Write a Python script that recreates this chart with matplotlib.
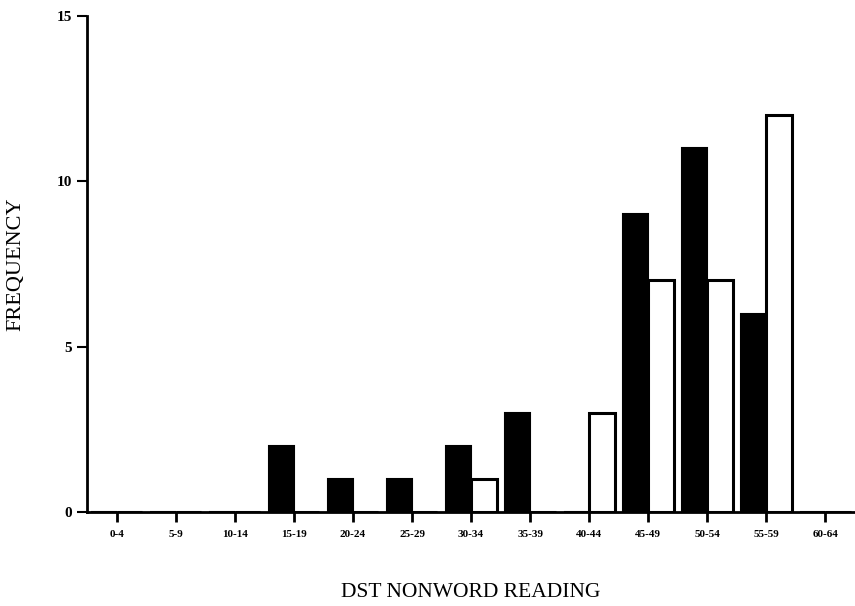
import numpy as np
import matplotlib
matplotlib.use("Agg")
import matplotlib.pyplot as plt

# score bands on the x axis
bands = ["0-4", "5-9", "10-14", "15-19", "20-24", "25-29", "30-34",
         "35-39", "40-44", "45-49", "50-54", "55-59", "60-64"]
# two groups: filled (black) and open (white) bars
black_freq = [0, 0, 0, 2, 1, 1, 2, 3, 0, 9, 11, 6, 0]
white_freq = [0, 0, 0, 0, 0, 0, 1, 0, 3, 7, 7, 12, 0]
y_ticks = [0, 5, 10, 15]

plt.rcParams['font.family'] = ['Liberation Serif', 'DejaVu Serif']

fig = plt.figure(figsize=(8.55, 6.06), dpi=100)
ax = fig.add_axes([0.102, 0.155, 0.898, 0.819])

x = np.arange(len(bands))
w = 0.43
ax.bar(x - w / 2, black_freq, width=w, color='black', edgecolor='black', linewidth=1.5)
ax.bar(x + w / 2, white_freq, width=w, color='white', edgecolor='black', linewidth=2.2)

ax.set_xlim(-0.5, 12.5)
ax.set_ylim(0, 15)
ax.set_xticks(x)
ax.set_xticklabels(bands, fontsize=8, fontweight='bold')
ax.set_yticks(y_ticks)
ax.set_yticklabels([str(v) for v in y_ticks], fontsize=11, fontweight='bold')

for side in ['top', 'right']:
    ax.spines[side].set_visible(False)
for side in ['left', 'bottom']:
    ax.spines[side].set_linewidth(2)
ax.tick_params(axis='x', length=7, width=2, pad=6)
ax.tick_params(axis='y', length=7, width=1.5, pad=4)

ax.set_xlabel("DST NONWORD READING", fontsize=15.5)
ax.set_ylabel("FREQUENCY", fontsize=16)
ax.xaxis.set_label_coords(0.5, -0.142)
ax.yaxis.set_label_coords(-0.081, 0.5)

fig.savefig("out.png", dpi=100)
